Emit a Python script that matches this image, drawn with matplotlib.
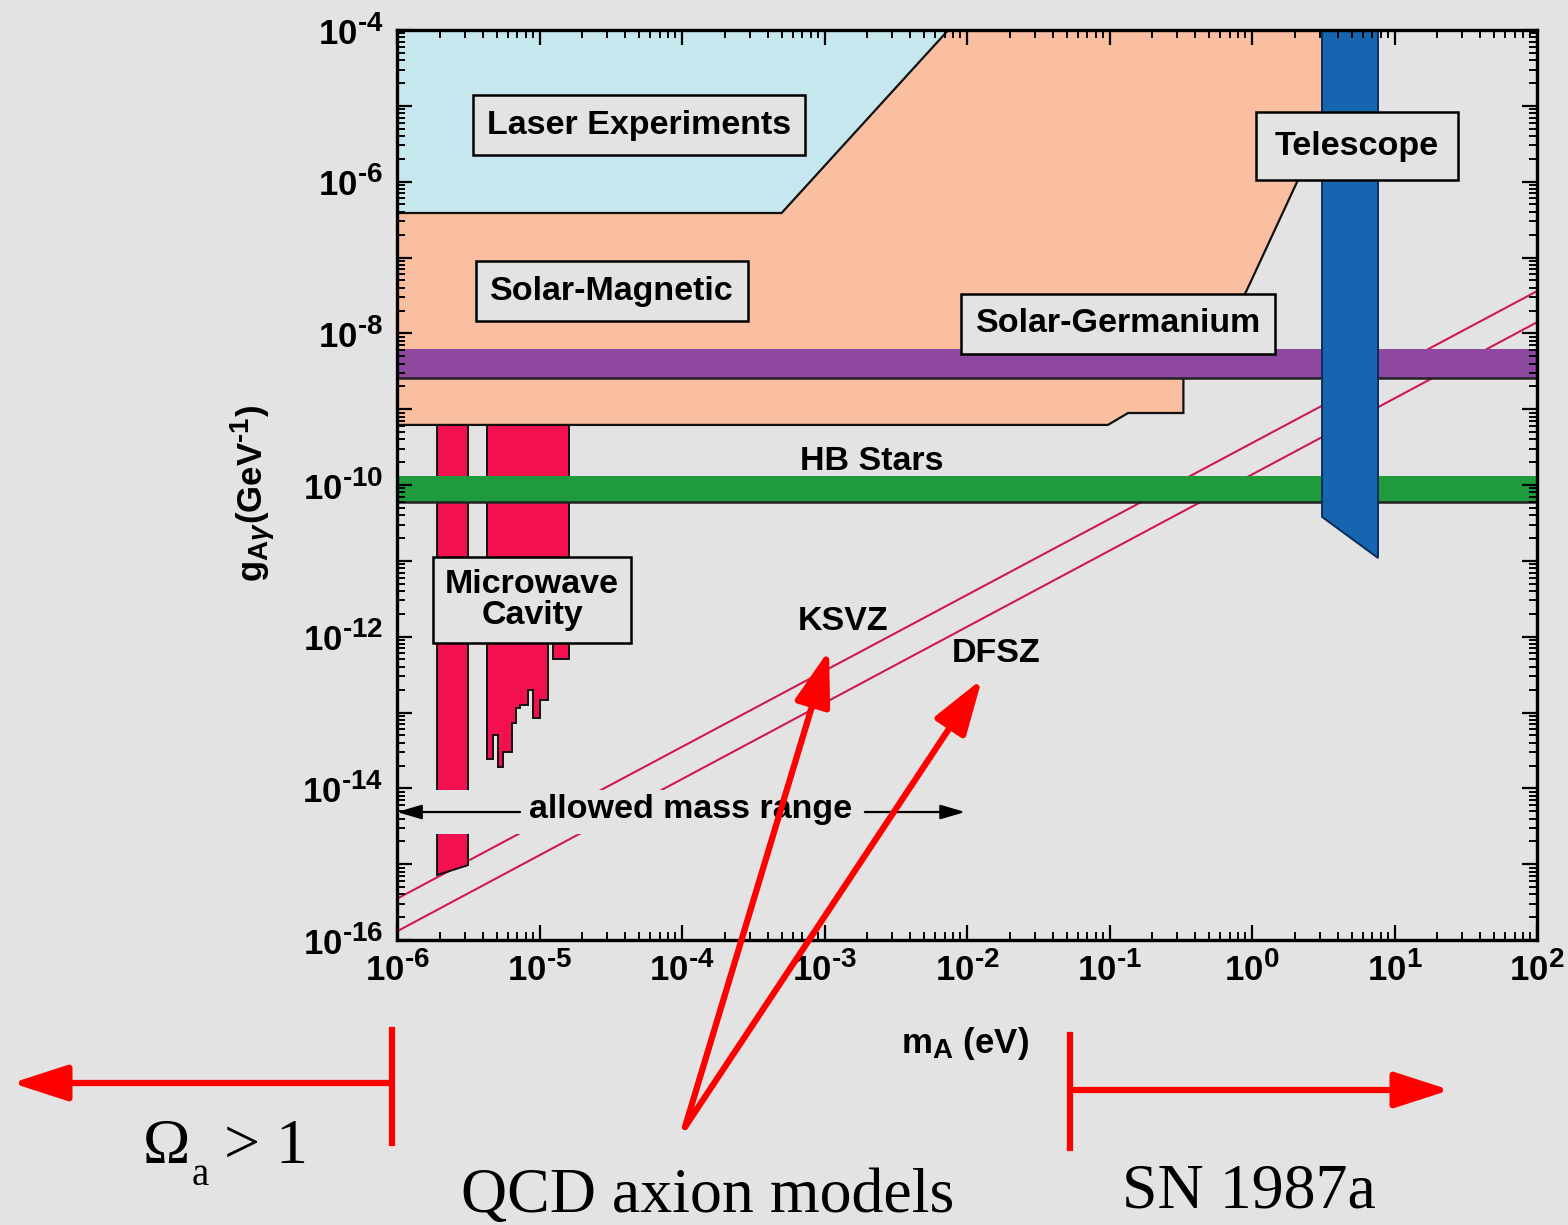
import numpy as np
import matplotlib
matplotlib.use('Agg')
import matplotlib.pyplot as plt
from matplotlib.patches import Polygon, Rectangle
from matplotlib.lines import Line2D
from matplotlib.ticker import LogLocator, FuncFormatter, NullFormatter
try:
    import matplotlib._mathtext as _mt
    _mt.SHRINK_FACTOR = 0.8
except Exception:
    pass

plt.rcParams['font.family'] = ['Liberation Sans', 'DejaVu Sans']
plt.rcParams['font.weight'] = 'bold'
plt.rcParams['mathtext.fontset'] = 'custom'
plt.rcParams['mathtext.rm'] = 'Liberation Sans:bold'
plt.rcParams['mathtext.bf'] = 'Liberation Sans:bold'
plt.rcParams['mathtext.it'] = 'Liberation Sans:italic'

# ---------------- data (axion mass m_A in eV, coupling g in GeV^-1) ----------------
x_range = [1e-6, 1e2]
y_range = [1e-16, 1e-4]

laser_m = [1e-6, 5.0e-4, 7.4e-3, 1e-6]
laser_g = [3.86e-7, 3.86e-7, 1e-4, 1e-4]

solar_m = [1e-6, 6.6, 2.1, 0.97, 0.47, 0.33, 0.33, 0.135, 0.0975, 1e-6]
solar_g = [1e-4, 1e-4, 1.05e-6, 4.6e-8, 2.6e-9, 2.6e-9, 8.9e-10, 8.9e-10, 6.2e-10, 6.2e-10]

purple_band = [2.6e-9, 6.2e-9]      # Solar-Germanium band
hb_band = [5.97e-11, 1.31e-10]      # HB Stars

telescope_m = [3.1, 7.66, 7.66, 3.1]
telescope_g = [1e-4, 1e-4, 1.09e-11, 3.8e-11]

cav1_m = [1.91e-6, 3.15e-6, 3.15e-6, 1.91e-6]
cav1_g = [6.18e-10, 6.18e-10, 9.7e-16, 7.2e-16]

cav2_m = [4.29e-6, 1.6e-5, 1.6e-5, 1.24e-5, 1.24e-5, 1.15e-5, 1.15e-5,
          1.008e-5, 1.008e-5, 9.0e-6, 9.0e-6, 8.3e-6, 8.3e-6, 7.3e-6, 7.3e-6,
          6.84e-6, 6.84e-6, 6.41e-6, 6.41e-6, 5.54e-6, 5.54e-6, 5.11e-6, 5.11e-6,
          4.72e-6, 4.72e-6, 4.29e-6]
cav2_g = [6.18e-10, 6.18e-10, 5e-13, 5e-13, 1e-12, 1e-12, 1.46e-13,
          1.46e-13, 8.45e-14, 8.45e-14, 1.98e-13, 1.98e-13, 1.25e-13, 1.25e-13, 1.15e-13,
          1.15e-13, 7.26e-14, 7.26e-14, 3.01e-14, 3.01e-14, 1.91e-14, 1.91e-14, 5.05e-14,
          5.05e-14, 2.43e-14, 2.43e-14]

model_m = [1e-6, 1e2]
ksvz_g = [3.5e-16, 3.6e-8]
dfsz_g = [1.3e-16, 1.4e-8]

allowed_mask_m = [1e-6, 1e-2]
allowed_mask_g = [2.5e-15, 9.6e-15]

# ---------------- styling ----------------
BG = '#e3e3e3'
W, H = 1568, 1225
fig = plt.figure(figsize=(W / 100, H / 100), dpi=100, facecolor=BG)
ax = fig.add_axes([397 / W, 1 - 940 / H, 1140 / W, 910 / H])
ax.set_facecolor('none')
ax.set_xscale('log')
ax.set_yscale('log')
ax.set_xlim(x_range)
ax.set_ylim(y_range)

EDGE = '#111111'
ax.add_patch(Polygon(list(zip(solar_m, solar_g)), closed=True, facecolor='#f9bfa0',
                     edgecolor=EDGE, lw=1.6, zorder=1.0))
ax.add_patch(Polygon(list(zip(laser_m, laser_g)), closed=True, facecolor='#c7e7ef',
                     edgecolor=EDGE, lw=1.6, zorder=1.05))

ax.plot(model_m, ksvz_g, color='#d0194f', lw=1.5, zorder=1.1)
ax.plot(model_m, dfsz_g, color='#d0194f', lw=1.5, zorder=1.1)

ax.add_patch(Polygon(list(zip(cav1_m, cav1_g)), closed=True, facecolor='#f2104f',
                     edgecolor=EDGE, lw=1.4, zorder=1.2))
ax.add_patch(Polygon(list(zip(cav2_m, cav2_g)), closed=True, facecolor='#f2104f',
                     edgecolor=EDGE, lw=1.4, zorder=1.2))

ax.fill_between(x_range, purple_band[0], purple_band[1], color='#8e48a0', lw=0, zorder=1.3)
ax.plot(x_range, [purple_band[0]] * 2, color='#222222', lw=1.8, zorder=1.31)
ax.fill_between(x_range, hb_band[0], hb_band[1], color='#1f9a3d', lw=0, zorder=1.3)
ax.plot(x_range, [hb_band[0]] * 2, color='#222222', lw=1.8, zorder=1.31)

ax.add_patch(Polygon(list(zip(telescope_m, telescope_g)), closed=True, facecolor='#1565b0',
                     edgecolor='#0b2d5c', lw=1.4, zorder=1.4))

ax.add_patch(Rectangle((allowed_mask_m[0], allowed_mask_g[0]),
                       allowed_mask_m[1] - allowed_mask_m[0],
                       allowed_mask_g[1] - allowed_mask_g[0],
                       facecolor=BG, edgecolor='none', zorder=1.8))

box = dict(boxstyle='square,pad=0.42', facecolor=BG, edgecolor='black', lw=1.8)
FS = 24.5
ax.text(4.99e-5, 5.58e-6, 'Laser Experiments', fontsize=FS, ha='center', va='center', bbox=box, zorder=3)
ax.text(3.23e-5, 3.61e-8, 'Solar-Magnetic', fontsize=FS, ha='center', va='center', bbox=box, zorder=3)
ax.text(0.115, 1.33e-8, 'Solar-Germanium', fontsize=FS, ha='center', va='center', bbox=box, zorder=3)
ax.text(5.46, 2.95e-6, 'Telescope', fontsize=FS, ha='center', va='center',
        bbox=dict(boxstyle='square,pad=0.55', facecolor=BG, edgecolor='black', lw=1.8), zorder=3)
ax.text(8.86e-6, 3.04e-12, 'Microwave\nCavity', fontsize=FS, ha='center', va='center',
        linespacing=1.0, bbox=dict(boxstyle='square,pad=0.35', facecolor=BG, edgecolor='black', lw=1.8), zorder=3)
ax.text(2.15e-3, 2.07e-10, 'HB Stars', fontsize=FS, ha='center', va='center', zorder=3)
ax.text(1.35e-3, 1.6e-12, 'KSVZ', fontsize=FS, ha='center', va='center', zorder=3)
ax.text(0.016, 6.08e-13, 'DFSZ', fontsize=FS, ha='center', va='center', zorder=3)
ax.text(1.14e-4, 5.2e-15, 'allowed mass range', fontsize=FS, ha='center', va='center', zorder=3)
small_arrow = dict(arrowstyle='-|>,head_length=0.75,head_width=0.22', color='black',
                   lw=1.6, mutation_scale=20, shrinkA=0, shrinkB=0)
ax.annotate('', xy=(1e-6, 4.87e-15), xytext=(7.3e-6, 4.87e-15), arrowprops=small_arrow, zorder=3)
ax.annotate('', xy=(9.7e-3, 4.87e-15), xytext=(1.92e-3, 4.87e-15), arrowprops=small_arrow, zorder=3)

# ---------------- axes, ticks ----------------
for s in ax.spines.values():
    s.set_linewidth(2.4)
    s.set_zorder(2.6)
ax.set_axisbelow(False)
ax.xaxis.set_major_locator(LogLocator(base=10, numticks=30))
ax.yaxis.set_major_locator(LogLocator(base=10, numticks=30))
ax.xaxis.set_minor_locator(LogLocator(base=10, subs=np.arange(2, 10), numticks=200))
ax.yaxis.set_minor_locator(LogLocator(base=10, subs=np.arange(2, 10), numticks=200))
ax.xaxis.set_minor_formatter(NullFormatter())
ax.yaxis.set_minor_formatter(NullFormatter())


def label_for(e):
    if e < 0:
        return r'$\mathbf{10^{\text{-}%d}}$' % (-e)
    return r'$\mathbf{10^{%d}}$' % e


def xfmt(v, pos):
    return label_for(int(round(np.log10(v))))


def yfmt(v, pos):
    e = int(round(np.log10(v)))
    if e % 2:
        return ''
    return label_for(e)


ax.xaxis.set_major_formatter(FuncFormatter(xfmt))
ax.yaxis.set_major_formatter(FuncFormatter(yfmt))
ax.tick_params(which='both', direction='in', top=True, right=True, color='black')
ax.tick_params(which='major', length=11, width=1.6, labelsize=25, pad=8)
ax.tick_params(which='minor', length=5.5, width=1.4)
ax.tick_params(axis='y', which='major', pad=10)

ax.set_xlabel(r'm$_{\mathbf{A}}$ (eV)', fontsize=25, fontweight='bold')
ax.xaxis.set_label_coords(0.498, -0.093)
ax.set_ylabel(r'g$_{\mathbf{A}\gamma}$(GeV$^{\mathbf{\text{-}1}}$)', fontsize=25, fontweight='bold')
ax.yaxis.set_label_coords(-0.105, 0.491)


# ---------------- slide overlay (figure pixels, top-left origin) ----------------
def P(x, y):
    return (x / W, 1 - y / H)


RED = '#ff0000'
arrow_style = dict(arrowstyle='-|>,head_length=1.7,head_width=0.55', color=RED, lw=4.5,
                   mutation_scale=20, shrinkA=0, shrinkB=0)
fig.add_artist(Line2D([P(392, 1030)[0], P(392, 1143)[0]], [P(392, 1030)[1], P(392, 1143)[1]],
                      transform=fig.transFigure, color=RED, lw=4.5))
ax.annotate('', xy=P(12, 1083), xytext=P(392, 1083), xycoords='figure fraction',
            textcoords='figure fraction', arrowprops=arrow_style, annotation_clip=False)
fig.add_artist(Line2D([P(1070, 1035)[0], P(1070, 1148)[0]], [P(1070, 1035)[1], P(1070, 1148)[1]],
                      transform=fig.transFigure, color=RED, lw=4.5))
ax.annotate('', xy=P(1450, 1090), xytext=P(1070, 1090), xycoords='figure fraction',
            textcoords='figure fraction', arrowprops=arrow_style, annotation_clip=False)
ax.annotate('', xy=P(829, 650), xytext=P(685, 1127), xycoords='figure fraction',
            textcoords='figure fraction', arrowprops=arrow_style, annotation_clip=False)
ax.annotate('', xy=P(982, 679), xytext=P(685, 1127), xycoords='figure fraction',
            textcoords='figure fraction', arrowprops=arrow_style, annotation_clip=False)

serif = dict(family=['Liberation Serif', 'DejaVu Serif'], fontweight='normal', color='black')
fig.text(*P(143, 1163), 'Ω', fontsize=46, ha='left', va='baseline', **serif)
fig.text(*P(192, 1185), 'a', fontsize=28, ha='left', va='baseline', **serif)
fig.text(*P(224, 1163), '> 1', fontsize=46, ha='left', va='baseline', **serif)
fig.text(*P(708, 1212), 'QCD axion models', fontsize=46, ha='center', va='baseline', **serif)
fig.text(*P(1249, 1208), 'SN 1987a', fontsize=46, ha='center', va='baseline', **serif)

fig.savefig('out.png', dpi=100, facecolor=BG)
